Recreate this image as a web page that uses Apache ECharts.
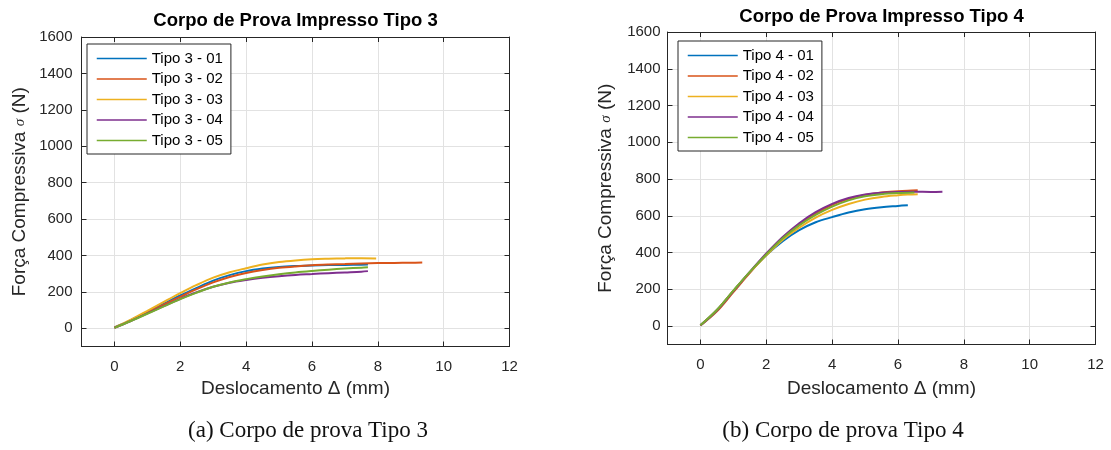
<!DOCTYPE html>
<html>
<head>
<meta charset="utf-8">
<script src="https://cdn.jsdelivr.net/npm/echarts@6/dist/echarts.min.js"></script>
<style>
  html, body { margin: 0; padding: 0; background: #fff; }
  #chart { width: 1111px; height: 450px; }
</style>
</head>
<body>
<div id="chart"></div>
<script>
// Compression tests: force vs displacement for printed specimens, types 3 and 4.
const xTicks = [0, 2, 4, 6, 8, 10, 12];
const yTicks = [0, 200, 400, 600, 800, 1000, 1200, 1400, 1600];

const names3 = ['Tipo 3 - 01', 'Tipo 3 - 02', 'Tipo 3 - 03', 'Tipo 3 - 04', 'Tipo 3 - 05'];
const names4 = ['Tipo 4 - 01', 'Tipo 4 - 02', 'Tipo 4 - 03', 'Tipo 4 - 04', 'Tipo 4 - 05'];

// [displacement (mm), force (N)]
const tipo3_01 = [[0,5],[0.5,45],[1,90],[1.5,135],[2,180],[2.5,222],[3,262],[3.5,292],[4,314],[4.5,328],[5,337],[5.5,342],[6,345],[6.5,347],[7,348],[7.5,349],[7.7,350]];
const tipo3_02 = [[0,3],[0.5,42],[1,86],[1.5,130],[2,173],[2.5,215],[3,252],[3.5,282],[4,304],[4.5,320],[5,332],[5.5,340],[6,346],[6.5,350],[7,353],[7.5,356],[8,358],[8.5,359],[9,360],[9.35,361]];
const tipo3_03 = [[0,5],[0.5,48],[1,96],[1.5,145],[2,193],[2.5,238],[3,278],[3.5,308],[4,330],[4.5,350],[5,364],[5.5,373],[6,379],[6.5,382],[7,384],[7.5,385],[7.95,384]];
const tipo3_04 = [[0,3],[0.5,40],[1,82],[1.5,122],[2,162],[2.5,198],[3,228],[3.5,250],[4,265],[4.5,277],[5,286],[5.5,293],[6,298],[6.5,303],[7,307],[7.5,311],[7.7,314]];
const tipo3_05 = [[0,2],[0.5,40],[1,80],[1.5,120],[2,160],[2.5,196],[3,228],[3.5,252],[4,270],[4.5,285],[5,297],[5.5,307],[6,315],[6.5,322],[7,328],[7.5,333],[7.7,335]];

const tipo4_01 = [[0,5],[0.5,88],[1,192],[1.5,292],[2,385],[2.5,462],[3,522],[3.5,565],[4,593],[4.5,618],[5,636],[5.5,647],[6,654],[6.3,658]];
const tipo4_02 = [[0,3],[0.5,80],[1,185],[1.5,290],[2,390],[2.5,480],[3,552],[3.5,612],[4,660],[4.5,693],[5,714],[5.5,727],[6,734],[6.3,737],[6.6,739]];
const tipo4_03 = [[0,5],[0.5,88],[1,192],[1.5,292],[2,385],[2.5,470],[3,535],[3.5,590],[4,632],[4.5,664],[5,688],[5.5,703],[6,712],[6.3,716],[6.6,718]];
const tipo4_04 = [[0,4],[0.5,85],[1,190],[1.5,295],[2,395],[2.5,485],[3,560],[3.5,620],[4,665],[4.5,697],[5,716],[5.5,726],[6,730],[6.5,731],[7,730],[7.35,731]];
const tipo4_05 = [[0,5],[0.5,88],[1,193],[1.5,295],[2,390],[2.5,478],[3,548],[3.5,605],[4,650],[4.5,684],[5,706],[5.5,718],[6,724],[6.5,727]];

const colors = ['#0072BD', '#D95319', '#EDB120', '#7E2F8E', '#77AC30'];
const sans = 'Liberation Sans, Arial, sans-serif';
const ink = '#262626';
const plain = function (v) { return String(v); };

function xAxisPair(gridIndex) {
  const base = {
    type: 'value', gridIndex: gridIndex, min: -1, max: 12,
    axisLine: { show: true, onZero: false, lineStyle: { color: ink, width: 1 } },
    axisTick: { show: true, inside: true, length: 5, customValues: xTicks, lineStyle: { color: ink } },
    splitLine: { show: true, lineStyle: { color: '#e2e2e2', width: 1 } }
  };
  return [
    Object.assign({}, base, {
      position: 'bottom',
      axisLabel: { show: true, customValues: xTicks, formatter: plain, margin: 13, fontSize: 15, color: ink, fontFamily: sans },
      name: 'Deslocamento Δ (mm)', nameLocation: 'middle', nameGap: gridIndex === 0 ? 33 : 35,
      nameTextStyle: { fontSize: 19, color: ink, fontFamily: sans }
    }),
    Object.assign({}, base, {
      position: 'top', axisLabel: { show: false }, splitLine: { show: false }
    })
  ];
}

function yAxisPair(gridIndex) {
  const base = {
    type: 'value', gridIndex: gridIndex, min: -100, max: 1600,
    axisLine: { show: true, onZero: false, lineStyle: { color: ink, width: 1 } },
    axisTick: { show: true, inside: true, length: 5, customValues: yTicks, lineStyle: { color: ink } },
    splitLine: { show: true, lineStyle: { color: '#e2e2e2', width: 1 } }
  };
  return [
    Object.assign({}, base, {
      position: 'left',
      axisLabel: { show: true, customValues: yTicks, formatter: plain, margin: gridIndex === 0 ? 9 : 7, fontSize: 15, color: ink, fontFamily: sans },
      name: 'Força Compressiva {s|σ} (N)', nameLocation: 'middle', nameGap: 52, nameRotate: 90,
      nameTextStyle: {
        fontSize: 19, color: ink, fontFamily: sans,
        rich: { s: { fontSize: 15, fontStyle: 'italic', fontFamily: 'Liberation Serif, serif', color: ink } }
      }
    }),
    Object.assign({}, base, {
      position: 'right', axisLabel: { show: false }, splitLine: { show: false }
    })
  ];
}

function makeSeries(names, datasets, axisIndex) {
  return names.map(function (n, i) {
    return {
      name: n, type: 'line', data: datasets[i],
      xAxisIndex: axisIndex, yAxisIndex: axisIndex,
      symbol: 'none', showSymbol: false, smooth: 0.35,
      lineStyle: { width: 2, color: colors[i] },
      itemStyle: { color: colors[i] },
      emphasis: { disabled: true }
    };
  });
}

function legendBox(names, left, top) {
  return {
    data: names, orient: 'vertical', left: left, top: top,
    itemWidth: 50, itemHeight: 15, itemGap: 5.5,
    padding: [7, 8, 6, 9],
    backgroundColor: '#fff', borderColor: ink, borderWidth: 1,
    itemStyle: { opacity: 0 },
    lineStyle: { width: 1.5 },
    textStyle: { fontSize: 15, color: '#000', fontFamily: sans, lineHeight: 15 },
    selectedMode: false
  };
}

const option = {
  animation: false,
  backgroundColor: '#fff',
  grid: [
    { left: 81.5, top: 37, width: 428, height: 309.5 },
    { left: 667.5, top: 32, width: 428, height: 312.5 }
  ],
  xAxis: xAxisPair(0).concat(xAxisPair(1)),
  yAxis: yAxisPair(0).concat(yAxisPair(1)),
  legend: [legendBox(names3, 87, 44), legendBox(names4, 678, 41)],
  graphic: [
    { type: 'text', x: 295.5, y: 21, style: { text: 'Corpo de Prova Impresso Tipo 3', fontSize: 18.5, fontWeight: 'bold', fontFamily: sans, fill: '#000', align: 'center', verticalAlign: 'middle' } },
    { type: 'text', x: 881.5, y: 17, style: { text: 'Corpo de Prova Impresso Tipo 4', fontSize: 18.5, fontWeight: 'bold', fontFamily: sans, fill: '#000', align: 'center', verticalAlign: 'middle' } },
    { type: 'text', x: 308, y: 431, style: { text: '(a) Corpo de prova Tipo 3', fontSize: 23, fontFamily: 'Liberation Serif, serif', fill: '#111', align: 'center', verticalAlign: 'middle' } },
    { type: 'text', x: 843, y: 431, style: { text: '(b) Corpo de prova Tipo 4', fontSize: 23, fontFamily: 'Liberation Serif, serif', fill: '#111', align: 'center', verticalAlign: 'middle' } }
  ],
  series: makeSeries(names3, [tipo3_01, tipo3_02, tipo3_03, tipo3_04, tipo3_05], 0)
    .concat(makeSeries(names4, [tipo4_01, tipo4_02, tipo4_03, tipo4_04, tipo4_05], 2))
};

const chart = echarts.init(document.getElementById('chart'), null, { renderer: 'canvas' });
chart.setOption(option);
</script>
</body>
</html>
